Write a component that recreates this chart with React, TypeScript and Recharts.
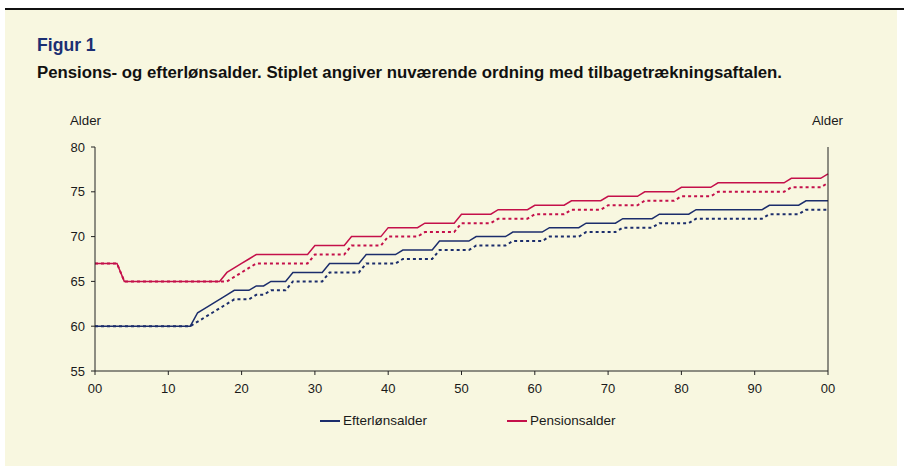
import { LineChart, Line, XAxis, YAxis } from 'recharts';

// x categories: one point per year
const YEARS = Array.from({ length: 101 }, (_, i) => 2000 + i);

// Efterlønsalder (new agreement)
const EFTERLON = [
  60, 60, 60, 60, 60, 60, 60, 60, 60, 60,
  60, 60, 60, 60, 61.5, 62, 62.5, 63, 63.5, 64,
  64, 64, 64.5, 64.5, 65, 65, 65, 66, 66, 66,
  66, 66, 67, 67, 67, 67, 67, 68, 68, 68,
  68, 68, 68.5, 68.5, 68.5, 68.5, 68.5, 69.5, 69.5, 69.5,
  69.5, 69.5, 70, 70, 70, 70, 70, 70.5, 70.5, 70.5,
  70.5, 70.5, 71, 71, 71, 71, 71, 71.5, 71.5, 71.5,
  71.5, 71.5, 72, 72, 72, 72, 72, 72.5, 72.5, 72.5,
  72.5, 72.5, 73, 73, 73, 73, 73, 73, 73, 73,
  73, 73, 73.5, 73.5, 73.5, 73.5, 73.5, 74, 74, 74,
  74,
];

// Efterlønsalder, current arrangement (dashed)
const EFTERLON_NU = [
  60, 60, 60, 60, 60, 60, 60, 60, 60, 60,
  60, 60, 60, 60, 60.5, 61, 61.5, 62, 62.5, 63,
  63, 63, 63.5, 63.5, 64, 64, 64, 65, 65, 65,
  65, 65, 66, 66, 66, 66, 66, 67, 67, 67,
  67, 67, 67.5, 67.5, 67.5, 67.5, 67.5, 68.5, 68.5, 68.5,
  68.5, 68.5, 69, 69, 69, 69, 69, 69.5, 69.5, 69.5,
  69.5, 69.5, 70, 70, 70, 70, 70, 70.5, 70.5, 70.5,
  70.5, 70.5, 71, 71, 71, 71, 71, 71.5, 71.5, 71.5,
  71.5, 71.5, 72, 72, 72, 72, 72, 72, 72, 72,
  72, 72, 72.5, 72.5, 72.5, 72.5, 72.5, 73, 73, 73,
  73,
];

// Pensionsalder (new agreement)
const PENSION = [
  67, 67, 67, 67, 65, 65, 65, 65, 65, 65,
  65, 65, 65, 65, 65, 65, 65, 65, 66, 66.5,
  67, 67.5, 68, 68, 68, 68, 68, 68, 68, 68,
  69, 69, 69, 69, 69, 70, 70, 70, 70, 70,
  71, 71, 71, 71, 71, 71.5, 71.5, 71.5, 71.5, 71.5,
  72.5, 72.5, 72.5, 72.5, 72.5, 73, 73, 73, 73, 73,
  73.5, 73.5, 73.5, 73.5, 73.5, 74, 74, 74, 74, 74,
  74.5, 74.5, 74.5, 74.5, 74.5, 75, 75, 75, 75, 75,
  75.5, 75.5, 75.5, 75.5, 75.5, 76, 76, 76, 76, 76,
  76, 76, 76, 76, 76, 76.5, 76.5, 76.5, 76.5, 76.5,
  77,
];

// Pensionsalder, current arrangement (dashed)
const PENSION_NU = [
  67, 67, 67, 67, 65, 65, 65, 65, 65, 65,
  65, 65, 65, 65, 65, 65, 65, 65, 65, 65.5,
  66, 66.5, 67, 67, 67, 67, 67, 67, 67, 67,
  68, 68, 68, 68, 68, 69, 69, 69, 69, 69,
  70, 70, 70, 70, 70, 70.5, 70.5, 70.5, 70.5, 70.5,
  71.5, 71.5, 71.5, 71.5, 71.5, 72, 72, 72, 72, 72,
  72.5, 72.5, 72.5, 72.5, 72.5, 73, 73, 73, 73, 73,
  73.5, 73.5, 73.5, 73.5, 73.5, 74, 74, 74, 74, 74,
  74.5, 74.5, 74.5, 74.5, 74.5, 75, 75, 75, 75, 75,
  75, 75, 75, 75, 75, 75.5, 75.5, 75.5, 75.5, 75.5,
  76,
];

const X_TICKS = [2000, 2010, 2020, 2030, 2040, 2050, 2060, 2070, 2080, 2090, 2100];
const Y_TICKS = [55, 60, 65, 70, 75, 80];

const BLUE = '#1b2d6b';
const RED = '#c4104a';
const FONT = '"Liberation Sans", Arial, sans-serif';

const data = YEARS.map((year, i) => ({
  year,
  eft: EFTERLON[i],
  eftNu: EFTERLON_NU[i],
  pen: PENSION[i],
  penNu: PENSION_NU[i],
}));

const tick = { fill: '#1a1a1a', fontSize: 13, fontFamily: FONT };
const axisLine = { stroke: '#222', strokeWidth: 1 };

export default function App() {
  return (
    <div style={{ position: 'absolute', left: 0, top: 0, width: 904, height: 467, background: '#fff', fontFamily: FONT }}>
      <div style={{ position: 'absolute', left: 5, top: 8, width: 899, height: 1.5, background: '#111' }} />
      <div style={{ position: 'absolute', left: 5, top: 10, width: 892, height: 456, background: '#f8f7e0' }} />

      <div style={{ position: 'absolute', left: 37, top: 35, fontSize: 17.6, fontWeight: 'bold', color: '#1b2f73' }}>
        Figur 1
      </div>
      <div style={{ position: 'absolute', left: 37, top: 63, fontSize: 16.8, fontWeight: 'bold', color: '#111' }}>
        Pensions- og efterlønsalder. Stiplet angiver nuværende ordning med tilbagetrækningsaftalen.
      </div>
      <div style={{ position: 'absolute', left: 70, top: 113, fontSize: 13.3, color: '#1a1a1a' }}>Alder</div>
      <div style={{ position: 'absolute', left: 812, top: 113, fontSize: 13.3, color: '#1a1a1a' }}>Alder</div>

      <div style={{ position: 'absolute', left: 0, top: 0 }}>
        <LineChart width={904} height={467} data={data} margin={{ top: 147, right: 36, left: 55, bottom: 66 }}>
          <XAxis
            dataKey="year"
            type="number"
            domain={[2000, 2100]}
            ticks={X_TICKS}
            tickFormatter={(v: number) => String(v % 100).padStart(2, '0')}
            tick={tick}
            axisLine={axisLine}
            tickLine={{ stroke: '#222' }}
            tickSize={4}
            tickMargin={9}
            height={30}
          />
          <YAxis
            yAxisId="left"
            domain={[55, 80]}
            ticks={Y_TICKS}
            tick={tick}
            axisLine={axisLine}
            tickLine={{ stroke: '#222' }}
            tickSize={4}
            tickMargin={6}
            width={40}
          />
          <YAxis
            yAxisId="right"
            orientation="right"
            domain={[55, 80]}
            ticks={Y_TICKS}
            tick={tick}
            axisLine={axisLine}
            tickLine={{ stroke: '#222' }}
            tickSize={4}
            tickMargin={8}
            width={40}
          />
          <Line yAxisId="left" type="linear" dataKey="eft" stroke={BLUE} strokeWidth={1.5} dot={false} isAnimationActive={false} />
          <Line yAxisId="left" type="linear" dataKey="pen" stroke={RED} strokeWidth={1.5} dot={false} isAnimationActive={false} />
          <Line yAxisId="left" type="linear" dataKey="eftNu" stroke={BLUE} strokeWidth={2} strokeDasharray="3 3" dot={false} isAnimationActive={false} />
          <Line yAxisId="left" type="linear" dataKey="penNu" stroke={RED} strokeWidth={2} strokeDasharray="3 3" dot={false} isAnimationActive={false} />
        </LineChart>
      </div>

      <div style={{ position: 'absolute', top: 413, left: 320, display: 'flex', alignItems: 'center', fontSize: 13.5, color: '#1a1a1a' }}>
        <span style={{ display: 'inline-block', width: 20, height: 2, background: BLUE, marginRight: 3 }} />
        <span>Efterlønsalder</span>
        <span style={{ display: 'inline-block', width: 20, height: 2, background: RED, marginLeft: 80, marginRight: 3 }} />
        <span>Pensionsalder</span>
      </div>
    </div>
  );
}
